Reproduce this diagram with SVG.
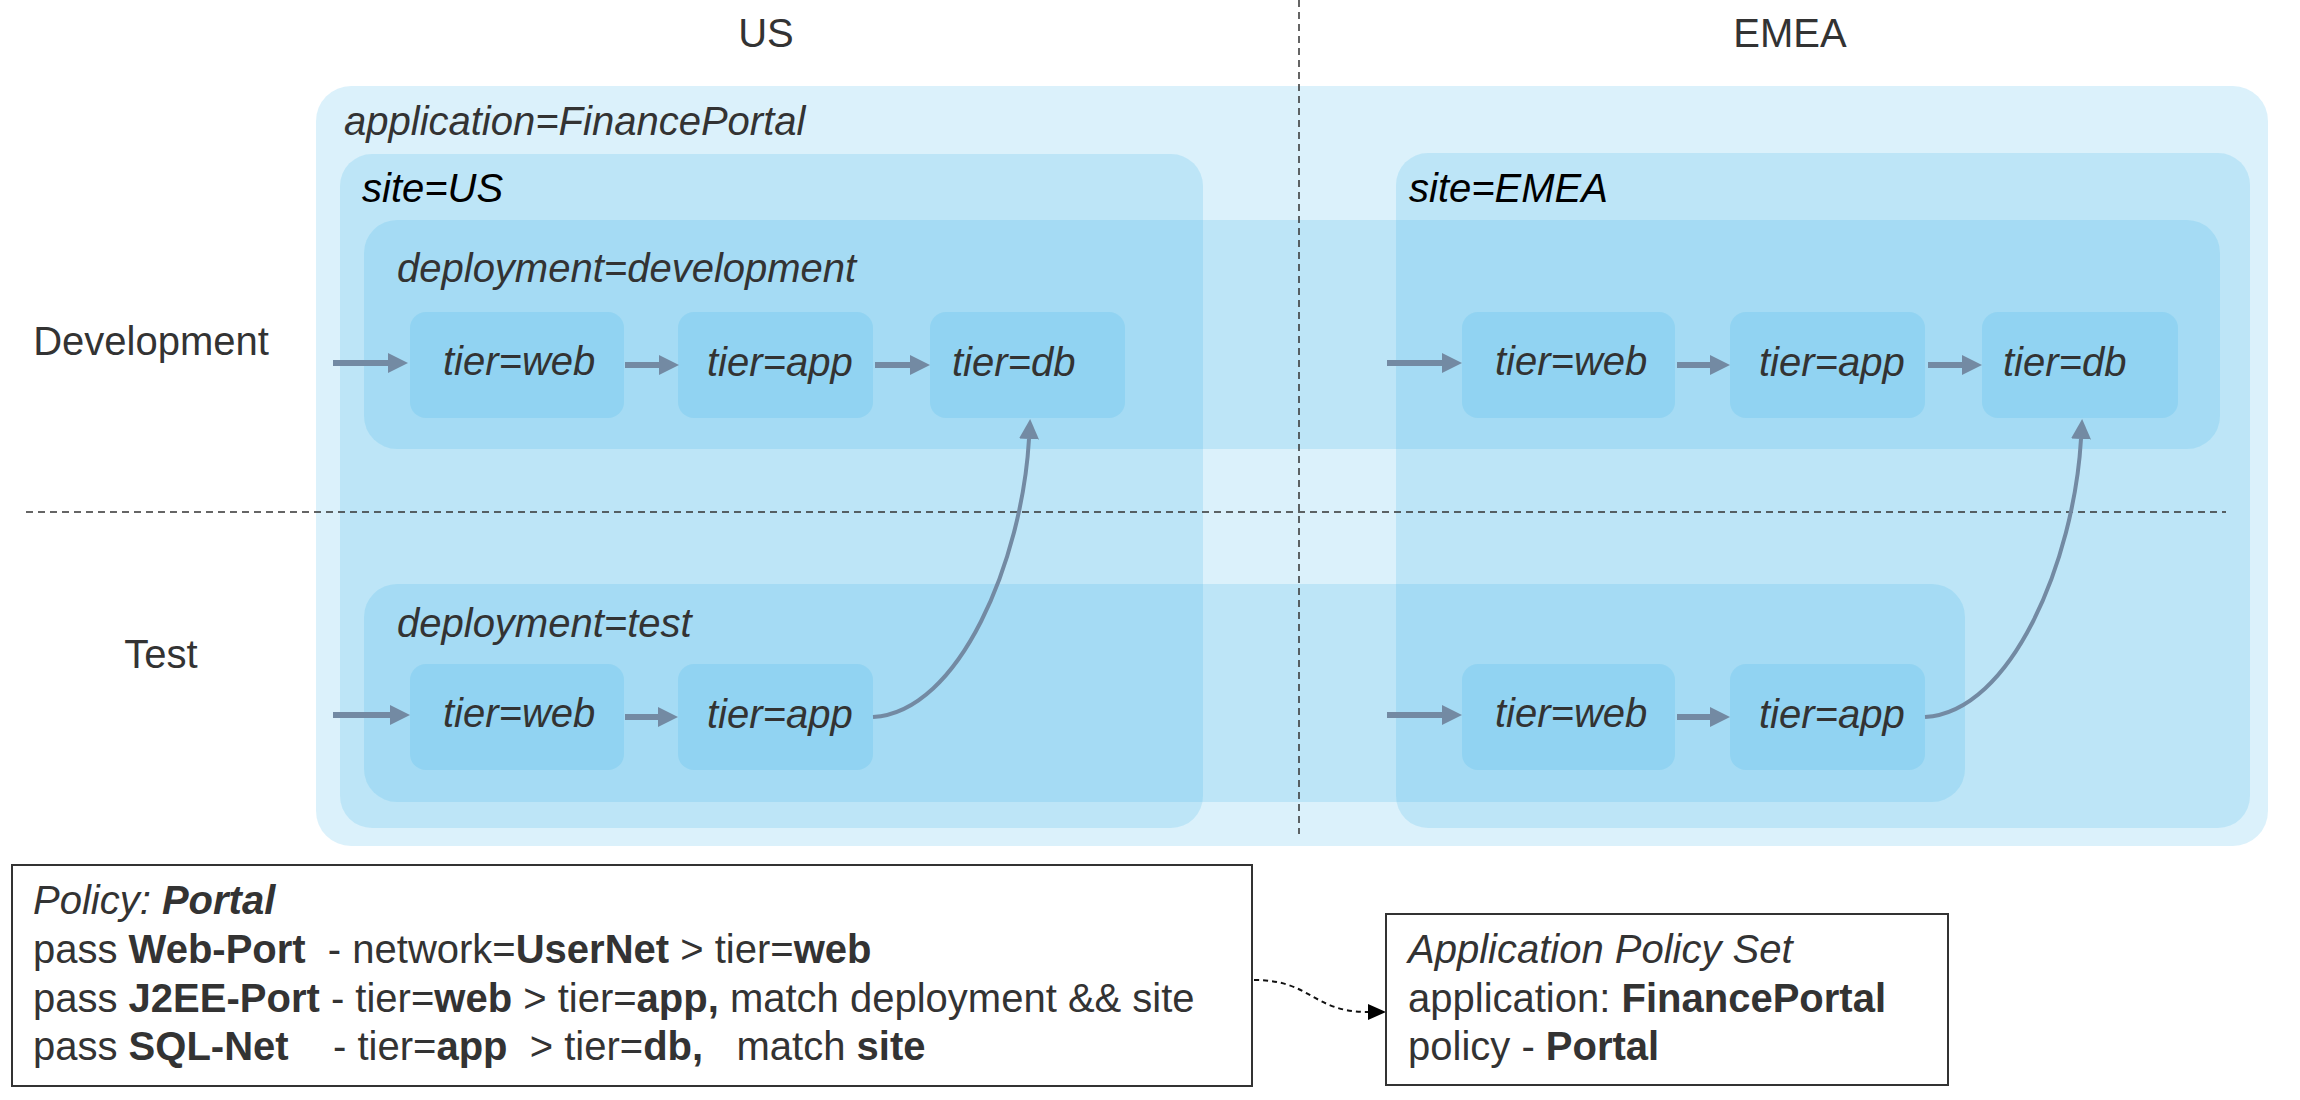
<svg xmlns="http://www.w3.org/2000/svg" width="2300" height="1100" viewBox="0 0 2300 1100">
<defs>
<style>
text{font-family:"Liberation Sans",Arial,Helvetica,sans-serif;font-size:40px;fill:#333}
.zone{fill:#37B1E9;fill-opacity:0.18}
.lbl{font-style:italic}
.site{font-style:italic;fill:#000}
.b{font-weight:bold}
.arr{fill:none;stroke:#738AA3;stroke-width:6}
.crv{fill:none;stroke:#738AA3;stroke-width:4}
.div{fill:none;stroke:#333;stroke-width:1.5;stroke-dasharray:7 5}
.box{fill:#fff;stroke:#333;stroke-width:2}
.dash{fill:none;stroke:#111;stroke-width:2;stroke-dasharray:5 4}
</style>
<marker id="ah" markerUnits="userSpaceOnUse" markerWidth="20" markerHeight="20" viewBox="0 0 20 20" refX="0" refY="10" orient="auto">
<path d="M0,0 L20,10 L0,20 z" fill="#738AA3"/>
</marker>
<marker id="bh" markerUnits="userSpaceOnUse" markerWidth="18" markerHeight="16" viewBox="0 0 18 16" refX="0" refY="8" orient="auto">
<path d="M0,0 L18,8 L0,16 z" fill="#000"/>
</marker>
</defs>
<rect width="2300" height="1100" fill="#fff"/>

<g id="headers">
<text x="766" y="47" text-anchor="middle">US</text>
<text x="1790" y="47" text-anchor="middle">EMEA</text>
<text x="151" y="355" text-anchor="middle">Development</text>
<text x="161" y="668" text-anchor="middle">Test</text>
</g>

<g id="app-financeportal">
<rect class="zone" x="316" y="86" width="1952" height="760" rx="35"/>
<text class="lbl" x="344" y="135">application=FinancePortal</text>
</g>

<g id="site-us">
<rect class="zone" x="340" y="154" width="863" height="674" rx="32"/>
<text class="site" x="362" y="202">site=US</text>
</g>

<g id="site-emea">
<rect class="zone" x="1396" y="153" width="854" height="675" rx="32"/>
<text class="site" x="1409" y="202">site=EMEA</text>
</g>

<g id="deployment-development">
<rect class="zone" x="364" y="220" width="1856" height="229" rx="33"/>
<text class="lbl" x="397" y="282">deployment=development</text>
</g>

<g id="deployment-test">
<rect class="zone" x="364" y="584" width="1601" height="218" rx="33"/>
<text class="lbl" x="397" y="637">deployment=test</text>
</g>

<g id="us-dev-web"><rect class="zone" x="410" y="312" width="214" height="106" rx="16"/><text class="lbl" x="443" y="375">tier=web</text></g>
<g id="us-dev-app"><rect class="zone" x="678" y="312" width="195" height="106" rx="16"/><text class="lbl" x="707" y="376">tier=app</text></g>
<g id="us-dev-db"><rect class="zone" x="930" y="312" width="195" height="106" rx="16"/><text class="lbl" x="952" y="376">tier=db</text></g>
<g id="emea-dev-web"><rect class="zone" x="1462" y="312" width="213" height="106" rx="16"/><text class="lbl" x="1495" y="375">tier=web</text></g>
<g id="emea-dev-app"><rect class="zone" x="1730" y="312" width="195" height="106" rx="16"/><text class="lbl" x="1759" y="376">tier=app</text></g>
<g id="emea-dev-db"><rect class="zone" x="1982" y="312" width="196" height="106" rx="16"/><text class="lbl" x="2003" y="376">tier=db</text></g>
<g id="us-test-web"><rect class="zone" x="410" y="664" width="214" height="106" rx="16"/><text class="lbl" x="443" y="727">tier=web</text></g>
<g id="us-test-app"><rect class="zone" x="678" y="664" width="195" height="106" rx="16"/><text class="lbl" x="707" y="728">tier=app</text></g>
<g id="emea-test-web"><rect class="zone" x="1462" y="664" width="213" height="106" rx="16"/><text class="lbl" x="1495" y="727">tier=web</text></g>
<g id="emea-test-app"><rect class="zone" x="1730" y="664" width="195" height="106" rx="16"/><text class="lbl" x="1759" y="728">tier=app</text></g>

<g id="dividers">
<path class="div" d="M1299,0 V834"/>
<path class="div" d="M26,512 H2226"/>
</g>

<g id="connectors">
<path class="arr" d="M333,363 H388" marker-end="url(#ah)"/>
<path class="arr" d="M625,365 H659" marker-end="url(#ah)"/>
<path class="arr" d="M875,365 H910" marker-end="url(#ah)"/>
<path class="arr" d="M1387,363 H1442" marker-end="url(#ah)"/>
<path class="arr" d="M1677,365 H1710" marker-end="url(#ah)"/>
<path class="arr" d="M1928,365 H1962" marker-end="url(#ah)"/>
<path class="arr" d="M333,715 H390" marker-end="url(#ah)"/>
<path class="arr" d="M625,717 H658" marker-end="url(#ah)"/>
<path class="arr" d="M1387,715 H1442" marker-end="url(#ah)"/>
<path class="arr" d="M1677,717 H1710" marker-end="url(#ah)"/>
<path class="crv" d="M873,717 C960,712 1022,560 1029,439" marker-end="url(#ah)"/>
<path class="crv" d="M1925,717 C2012,712 2074,560 2081,439" marker-end="url(#ah)"/>
<path class="dash" d="M1254,980 C1312,980 1312,1012 1368,1012" marker-end="url(#bh)"/>
</g>

<g id="policy-portal">
<rect class="box" x="12" y="865" width="1240" height="221"/>
<text x="33" y="914" xml:space="preserve"><tspan class="lbl">Policy: </tspan><tspan class="lbl b">Portal</tspan></text>
<text x="33" y="963" xml:space="preserve">pass <tspan class="b">Web-Port</tspan>  - network=<tspan class="b">UserNet</tspan> &gt; tier=<tspan class="b">web</tspan></text>
<text x="33" y="1012" xml:space="preserve">pass <tspan class="b">J2EE-Port</tspan> - tier=<tspan class="b">web</tspan> &gt; tier=<tspan class="b">app,</tspan> match deployment &amp;&amp; site</text>
<text x="33" y="1060" xml:space="preserve">pass <tspan class="b">SQL-Net</tspan>    - tier=<tspan class="b">app</tspan>  &gt; tier=<tspan class="b">db,</tspan>   match <tspan class="b">site</tspan></text>
</g>

<g id="application-policy-set">
<rect class="box" x="1386" y="914" width="562" height="171"/>
<text class="lbl" x="1408" y="963">Application Policy Set</text>
<text x="1408" y="1012" xml:space="preserve">application: <tspan class="b">FinancePortal</tspan></text>
<text x="1408" y="1060" xml:space="preserve">policy - <tspan class="b">Portal</tspan></text>
</g>
</svg>
